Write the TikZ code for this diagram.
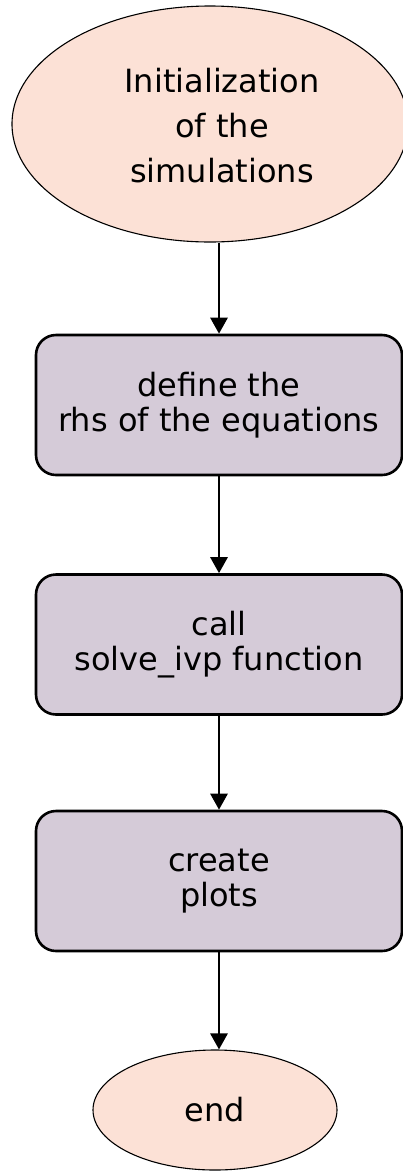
\documentclass[tikz,border=0pt]{standalone}
\usepackage{fontspec}
\setmainfont{DejaVu Sans}
\usetikzlibrary{arrows.meta,shapes.geometric}

\definecolor{terminalfill}{RGB}{252,225,214}
\definecolor{processfill}{RGB}{213,203,216}

\tikzset{
  terminal/.style={ellipse, draw=black, line width=1.1pt, fill=terminalfill, inner sep=0pt},
  process/.style={rectangle, rounded corners=20pt, draw=black, line width=2.6pt,
    fill=processfill, minimum width=366pt, minimum height=140pt, inner sep=0pt,
    align=center, font=\fontsize{32}{35}\selectfont},
  label text/.style={align=center, inner sep=0pt},
  flow/.style={line width=2.8pt, -{Triangle[width=17pt,length=16pt]}}
}

\begin{document}
\begin{tikzpicture}[x=1pt, y=-1pt]
  \useasboundingbox (0,0) rectangle (403,1171);

  % start terminal
  \node[terminal, minimum width=396pt, minimum height=236pt] (init) at (210,124) {};
  \node[label text, font=\fontsize{32}{45}\selectfont] (initlabel) at (222,126)
    {Initialization\\of the\\simulations};

  % process steps
  \node[process] (rhs) at (219,405) {define the\\rhs of the equations};
  \node[process] (solve) at (219,644.5) {call\\solve\_ivp function};
  \node[process] (plots) at (219,881) {create\\plots};

  % end terminal
  \node[terminal, minimum width=244pt, minimum height=120pt,
        font=\fontsize{32}{35}\selectfont] (finish) at (215,1110) {end};

  % connectors
  \draw[flow] (rhs.north |- init.south) -- (rhs.north);
  \draw[flow] (rhs.south) -- (solve.north);
  \draw[flow] (solve.south) -- (plots.north);
  \draw[flow] (plots.south) -- (plots.south |- finish.north);
\end{tikzpicture}
\end{document}
